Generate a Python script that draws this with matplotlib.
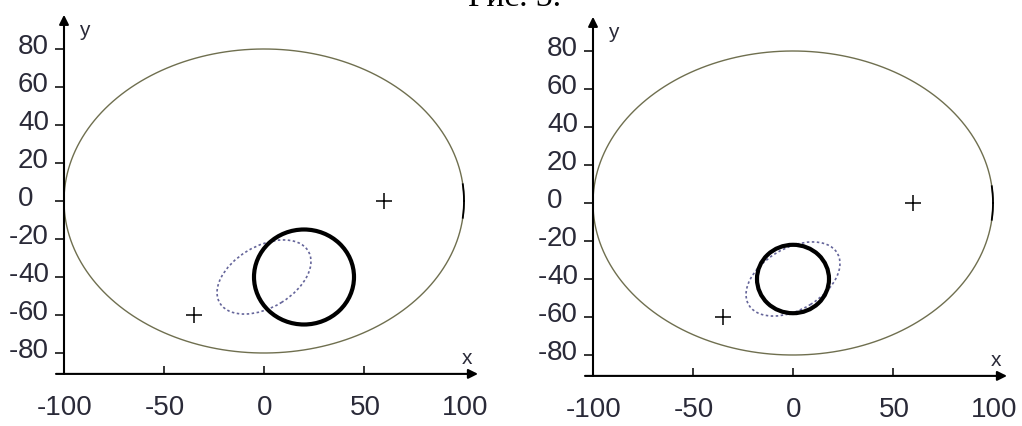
import numpy as np
import matplotlib
matplotlib.use('Agg')
import matplotlib.pyplot as plt
from matplotlib.patches import Ellipse
from matplotlib.transforms import offset_copy

# --- data ---
field_center = (0, 0)          # big olive ellipse
field_axes = (100, 80)         # semi-axes
cross_x = [60, -35]
cross_y = [0, -60]
# dotted (estimated) ellipse, same in both panels
est_center = (0, -40)
est_axes = (26, 16)
est_angle = 33
# thick circle: left panel, right panel
circle_x = [20, 0]
circle_y = [-40, -40]
circle_r = [25, 18]

x_ticks = [-50, 0, 50]
x_labels = [-100, -50, 0, 50, 100]
y_ticks = [-80, -60, -40, -20, 0, 20, 40, 60, 80]

plt.rcParams['font.family'] = ['Liberation Sans', 'DejaVu Sans']

fig = plt.figure(figsize=(10.22, 4.26), dpi=100)
fig.text(515 / 1022, 1 - 6 / 426, 'Рис. 3.', ha='center', va='baseline',
         fontsize=24, family=['Liberation Serif', 'DejaVu Serif'])

positions = [(48, 35), (577, 33)]
txt_col = '#2a2a38'
x_axis_y = -91

for i, (px, py) in enumerate(positions):
    ax = fig.add_axes([px / 1022, py / 426, 440 / 1022, 380 / 426])
    ax.set_xlim(-108, 112)
    ax.set_ylim(-100, 100)
    ax.patch.set_alpha(0)

    # outer ellipse
    t = np.linspace(0, 2 * np.pi, 400)
    ex = field_center[0] + field_axes[0] * np.cos(t)
    ey = field_center[1] + field_axes[1] * np.sin(t)
    ax.plot(ex, ey, color='#6f6f4f', lw=1.0)
    edge = np.cos(t) > 0.993
    ax.plot(np.where(edge, ex, np.nan), ey, color='k', lw=1.3)

    # dotted ellipse
    ax.add_patch(Ellipse(est_center, 2 * est_axes[0], 2 * est_axes[1], angle=est_angle,
                         fill=False, ec='#65659a', lw=1.2, ls=(0, (1.5, 1.5))))
    # thick circle
    ax.add_patch(Ellipse((circle_x[i], circle_y[i]), 2 * circle_r[i], 2 * circle_r[i],
                         fill=False, ec='k', lw=3.0))
    # crosses
    ax.plot(cross_x, cross_y, '+', color='k', ms=12, mew=1.1)

    # axes with arrows
    arr = dict(arrowstyle='-|>', color='k', lw=1.5, mutation_scale=14, shrinkA=0, shrinkB=0)
    ax.annotate('', xy=(107, x_axis_y), xytext=(-104, x_axis_y), arrowprops=arr)
    ax.annotate('', xy=(-100, 98), xytext=(-100, x_axis_y), arrowprops=arr)

    for s in ax.spines.values():
        s.set_visible(False)
    ax.spines['left'].set_position(('data', -100))
    ax.spines['bottom'].set_position(('data', x_axis_y))
    ax.set_xticks(x_ticks)
    ax.set_yticks(y_ticks)
    ax.tick_params(axis='x', direction='in', length=5.8, width=1.1, labelbottom=False)
    ax.tick_params(axis='y', direction='out', length=6.5, width=1.1, labelleft=False)

    # tick labels (digits aligned, minus hanging to the left)
    ytr = offset_copy(ax.transData, fig=fig, x=-46, y=2, units='dots')
    for v in y_ticks:
        ax.text(-100, v, str(abs(v)), transform=ytr, ha='left', va='center',
                fontsize=20, color=txt_col)
        if v < 0:
            ax.text(-100, v, '-', transform=ytr, ha='right', va='center',
                    fontsize=20, color=txt_col)
    xtr = offset_copy(ax.transData, fig=fig, x=1, y=-34, units='dots')
    for v in x_labels:
        ax.text(v, x_axis_y, str(v), transform=xtr, ha='center', va='center',
                fontsize=20, color=txt_col)

    ax.text(-90, 90, 'y', ha='center', va='center', fontsize=15, color=txt_col)
    ax.text(101.5, -83, 'x', ha='center', va='center', fontsize=15, color=txt_col)

plt.savefig('out.png', dpi=100)
